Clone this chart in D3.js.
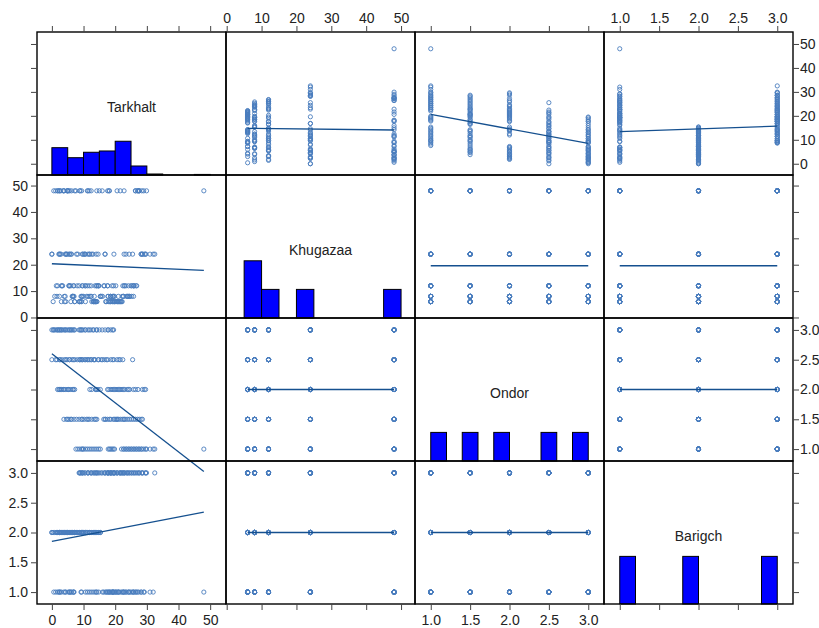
<!DOCTYPE html>
<html>
<head>
<meta charset="utf-8">
<title>Scatterplot matrix</title>
<script src="https://cdnjs.cloudflare.com/ajax/libs/d3/7.8.5/d3.min.js"></script>
<style>
body { margin:0; background:#fff; }
svg text { font-family: "Liberation Sans", Arial, sans-serif; }
.tick text { font-size:14px; fill:#222; }
.tick line { stroke:#444; }
</style>
</head>
<body>
<div id="chart"></div>
<script>

// variable names (diagonal)
var names = ["Tarkhalt", "Khugazaa", "Ondor", "Barigch"];

// design of one replicate: 75 runs, ordered Ondor -> Barigch -> Khugazaa
var khugazaa = [
    6, 8, 12, 24, 48, 6, 8, 12, 24, 48, 6, 8, 12, 24, 48,
    6, 8, 12, 24, 48, 6, 8, 12, 24, 48, 6, 8, 12, 24, 48,
    6, 8, 12, 24, 48, 6, 8, 12, 24, 48, 6, 8, 12, 24, 48,
    6, 8, 12, 24, 48, 6, 8, 12, 24, 48, 6, 8, 12, 24, 48,
    6, 8, 12, 24, 48, 6, 8, 12, 24, 48, 6, 8, 12, 24, 48
];
var ondor = [
    1, 1, 1, 1, 1, 1, 1, 1, 1, 1, 1, 1, 1, 1, 1,
    1.5, 1.5, 1.5, 1.5, 1.5, 1.5, 1.5, 1.5, 1.5, 1.5, 1.5, 1.5, 1.5, 1.5, 1.5,
    2, 2, 2, 2, 2, 2, 2, 2, 2, 2, 2, 2, 2, 2, 2,
    2.5, 2.5, 2.5, 2.5, 2.5, 2.5, 2.5, 2.5, 2.5, 2.5, 2.5, 2.5, 2.5, 2.5, 2.5,
    3, 3, 3, 3, 3, 3, 3, 3, 3, 3, 3, 3, 3, 3, 3
];
var barigch = [
    1, 1, 1, 1, 1, 2, 2, 2, 2, 2, 3, 3, 3, 3, 3,
    1, 1, 1, 1, 1, 2, 2, 2, 2, 2, 3, 3, 3, 3, 3,
    1, 1, 1, 1, 1, 2, 2, 2, 2, 2, 3, 3, 3, 3, 3,
    1, 1, 1, 1, 1, 2, 2, 2, 2, 2, 3, 3, 3, 3, 3,
    1, 1, 1, 1, 1, 2, 2, 2, 2, 2, 3, 3, 3, 3, 3
];

// Tarkhalt, three replicates of the design above
var tarkhaltRep1 = [
    19.8, 25.8, 26.6, 32, 48,    14.2, 15.3, 14.8, 11.8, 9.4,  22, 25.2, 26.8, 32.5, 29.9,
    21, 24.6, 25.8, 28.2, 27,    14.2, 13.4, 11.8, 10.2, 6.2,  21.6, 24, 25.2, 28.6, 27.6,
    21.8, 22.6, 24.2, 29.2, 26.4, 13.8, 15.3, 14.6, 12, 3.6,   22.2, 24.6, 25.8, 29.6, 27.2,
    21.2, 19.2, 14.8, 25.5, 12.4, 13.2, 11.8, 10.6, 9.6, 7.2,  20.6, 18.6, 22.4, 19.6, 21.6,
    19.2, 17.8, 14.2, 13, 11.8,  7.2, 6.6, 6, 5.4, 4.9,        18.6, 17.7, 19.5, 16.8, 15.9
];
var tarkhaltRep2 = [
    19, 24.2, 25, 31, 29,        13.6, 12.4, 11.2, 10.6, 8.8,  18.6, 23.6, 26, 29.6, 28.4,
    20.6, 22.2, 20.2, 23.4, 22.8, 12.6, 11, 8.6, 7.8, 5,       19.8, 18.6, 17.6, 22.8, 26.4,
    20.2, 21, 17.6, 14, 5.2,     7.2, 6.6, 5.4, 4.8, 2.8,      21.4, 23.8, 23, 28.6, 18,
    17.2, 16, 13.6, 4.4, 11.2,   8.8, 6.4, 8, 5.6, 4.8,        13.4, 15.6, 16.6, 14.6, 17.6,
    10.6, 9.4, 7, 6.2, 5.6,      4.4, 3.9, 3.4, 2.9, 2.4,      13.2, 12.3, 14.1, 11.4, 15
];
var tarkhaltRep3 = [
    18.2, 22.6, 23.4, 28.2, 27.4, 13, 10, 9.7, 8.2, 7.6,       17.8, 19.4, 22.8, 24.4, 27.6,
    17, 19.4, 16.4, 6, 18.2,     9.4, 7, 5.4, 4.6, 3.8,        13.8, 11.4, 9.6, 16.8, 20.6,
    19.4, 18.6, 6.8, 2.2, 3.8,   6, 4.2, 3, 2.4, 1.8,          20.6, 19.8, 19, 12.6, 14.2,
    9.2, 6.8, 5.6, 2.6, 1.2,     4, 1.6, 3.2, 0, 2.4,          8.8, 9.6, 12.4, 10.4, 11.4,
    3, 2.4, 1.8, 4.2, 0.6,       0.4, 0.9, 1.4, 0, 1.9,        8.6, 9.2, 10.5, 9.8, 8.9
];

// histograms on the diagonal (bin start, percent of observations)
var tarkhaltBins = [0, 5, 10, 15, 20, 25, 30, 35, 40, 45];
var tarkhaltPct  = [19.1, 12.1, 15.9, 16.8, 23.6, 6.3, 0.7, 0, 0, 0.4];
var khugazaaBins = [5, 10, 20, 45];
var khugazaaPct  = [40, 20, 20, 20];
var ondorBins = [1.0, 1.4, 1.8, 2.4, 2.8];
var ondorPct  = [20, 20, 20, 20, 20];
var barigchBins = [1.0, 1.8, 2.8];
var barigchPct  = [33.3, 33.3, 33.3];
var binWidths = [5, 5, 0.2, 0.2];

// axis ticks
var tarkhaltTicks = [0, 10, 20, 30, 40, 50];
var khugazaaTicks = [0, 10, 20, 30, 40, 50];
var ondorTicks = [1.0, 1.5, 2.0, 2.5, 3.0];
var barigchTicks = [1.0, 1.5, 2.0, 2.5, 3.0];

(function() {

// stack the replicates into one table of columns
var T = [], K = [], O = [], B = [];
[tarkhaltRep1, tarkhaltRep2, tarkhaltRep3].forEach(function(rep) {
    rep.forEach(function(v, k) {
        T.push(v); K.push(khugazaa[k]); O.push(ondor[k]); B.push(barigch[k]);
    });
});

var columns = [T, K, O, B];
var hists = [
    {bins: tarkhaltBins, pct: tarkhaltPct},
    {bins: khugazaaBins, pct: khugazaaPct},
    {bins: ondorBins, pct: ondorPct},
    {bins: barigchBins, pct: barigchPct}
];
var ticks = [tarkhaltTicks, khugazaaTicks, ondorTicks, barigchTicks];
var domains = [[-4.7, 55], [-0.2, 54], [0.8, 3.2], [0.8, 3.2]];
var formats = [d3.format("d"), d3.format("d"), d3.format(".1f"), d3.format(".1f")];

var width = 819, height = 628;
var marginLeft = 37, marginTop = 32, pw = 189, ph = 143;
var n = names.length;

var pointColor = "#4a7dbd";
var lineColor = "#15508f";

var svg = d3.select("#chart").append("svg")
    .attr("width", width)
    .attr("height", height);

var hx = domains.map(function(d) { return d3.scaleLinear().domain(d).range([0, pw]); });
var vy = domains.map(function(d) { return d3.scaleLinear().domain(d).range([ph, 0]); });
var pctScale = d3.scaleLinear().domain([0, 100]).range([ph, 0]);

function fit(xs, ys) {
    var mx = d3.mean(xs), my = d3.mean(ys);
    var sxy = 0, sxx = 0;
    for (var k = 0; k < xs.length; k++) {
        sxy += (xs[k] - mx) * (ys[k] - my);
        sxx += (xs[k] - mx) * (xs[k] - mx);
    }
    var b = sxy / sxx;
    return {b: b, a: my - b * mx};
}

function drawPanel(i, j) {
    var g = svg.append("g")
        .attr("transform", "translate(" + (marginLeft + j * pw) + "," + (marginTop + i * ph) + ")");

    if (i === j) {
        var h = hists[i];
        g.selectAll("rect.bar")
            .data(h.bins.map(function(b, k) { return {x0: b, p: h.pct[k]}; })
                  .filter(function(d) { return d.p > 0; }))
            .enter().append("rect")
            .attr("class", "bar")
            .attr("x", function(d) { return hx[j](d.x0); })
            .attr("width", function(d) { return hx[j](d.x0 + binWidths[j]) - hx[j](d.x0); })
            .attr("y", function(d) { return pctScale(d.p); })
            .attr("height", function(d) { return ph - pctScale(d.p); })
            .attr("fill", "#0000ff")
            .attr("stroke", "#000")
            .attr("stroke-width", 1);

        g.append("text")
            .attr("x", pw / 2)
            .attr("y", ph / 2 + 8)
            .attr("text-anchor", "middle")
            .attr("font-size", 14)
            .attr("fill", "#222")
            .text(names[i]);
        return;
    }

    var xs = columns[j], ys = columns[i];
    var pts = xs.map(function(x, k) { return [x, ys[k]]; });

    g.selectAll("circle")
        .data(pts)
        .enter().append("circle")
        .attr("cx", function(d) { return hx[j](d[0]); })
        .attr("cy", function(d) { return vy[i](d[1]); })
        .attr("r", 2.1)
        .attr("fill", "none")
        .attr("stroke", pointColor)
        .attr("stroke-width", 0.9);

    // least squares line over the x range (not clipped, as in the original)
    var f = fit(xs, ys);
    var ext = d3.extent(xs);
    g.append("line")
        .attr("x1", hx[j](ext[0]))
        .attr("y1", vy[i](f.a + f.b * ext[0]))
        .attr("x2", hx[j](ext[1]))
        .attr("y2", vy[i](f.a + f.b * ext[1]))
        .attr("stroke", lineColor)
        .attr("stroke-width", 1.3);
}

for (var i = 0; i < n; i++) {
    for (var j = 0; j < n; j++) {
        drawPanel(i, j);
    }
}

// panel borders
for (var i = 0; i < n; i++) {
    for (var j = 0; j < n; j++) {
        svg.append("rect")
            .attr("x", marginLeft + j * pw)
            .attr("y", marginTop + i * ph)
            .attr("width", pw)
            .attr("height", ph)
            .attr("fill", "none")
            .attr("stroke", "#000")
            .attr("stroke-width", 1.4);
    }
}

// axes: labels alternate between sides
function axisWith(axis, k, labelled, pad) {
    return axis.tickValues(ticks[k])
        .tickSize(6)
        .tickSizeOuter(0)
        .tickPadding(pad)
        .tickFormat(labelled ? formats[k] : "");
}

function noDomain(s) { s.select(".domain").remove(); }

for (var j = 0; j < n; j++) {
    var gx = marginLeft + j * pw;
    svg.append("g")
        .attr("transform", "translate(" + gx + "," + marginTop + ")")
        .call(axisWith(d3.axisTop(hx[j]), j, j % 2 === 1, 3))
        .call(noDomain);
    svg.append("g")
        .attr("transform", "translate(" + gx + "," + (marginTop + n * ph) + ")")
        .call(axisWith(d3.axisBottom(hx[j]), j, j % 2 === 0, 5))
        .call(noDomain);
}

for (var i = 0; i < n; i++) {
    var gy = marginTop + i * ph;
    svg.append("g")
        .attr("transform", "translate(" + marginLeft + "," + gy + ")")
        .call(axisWith(d3.axisLeft(vy[i]), i, i % 2 === 1, 3))
        .call(noDomain);
    svg.append("g")
        .attr("transform", "translate(" + (marginLeft + n * pw) + "," + gy + ")")
        .call(axisWith(d3.axisRight(vy[i]), i, i % 2 === 0, 1))
        .call(noDomain);
}

svg.selectAll(".tick text").attr("font-size", 14);

})();

</script>
</body>
</html>
